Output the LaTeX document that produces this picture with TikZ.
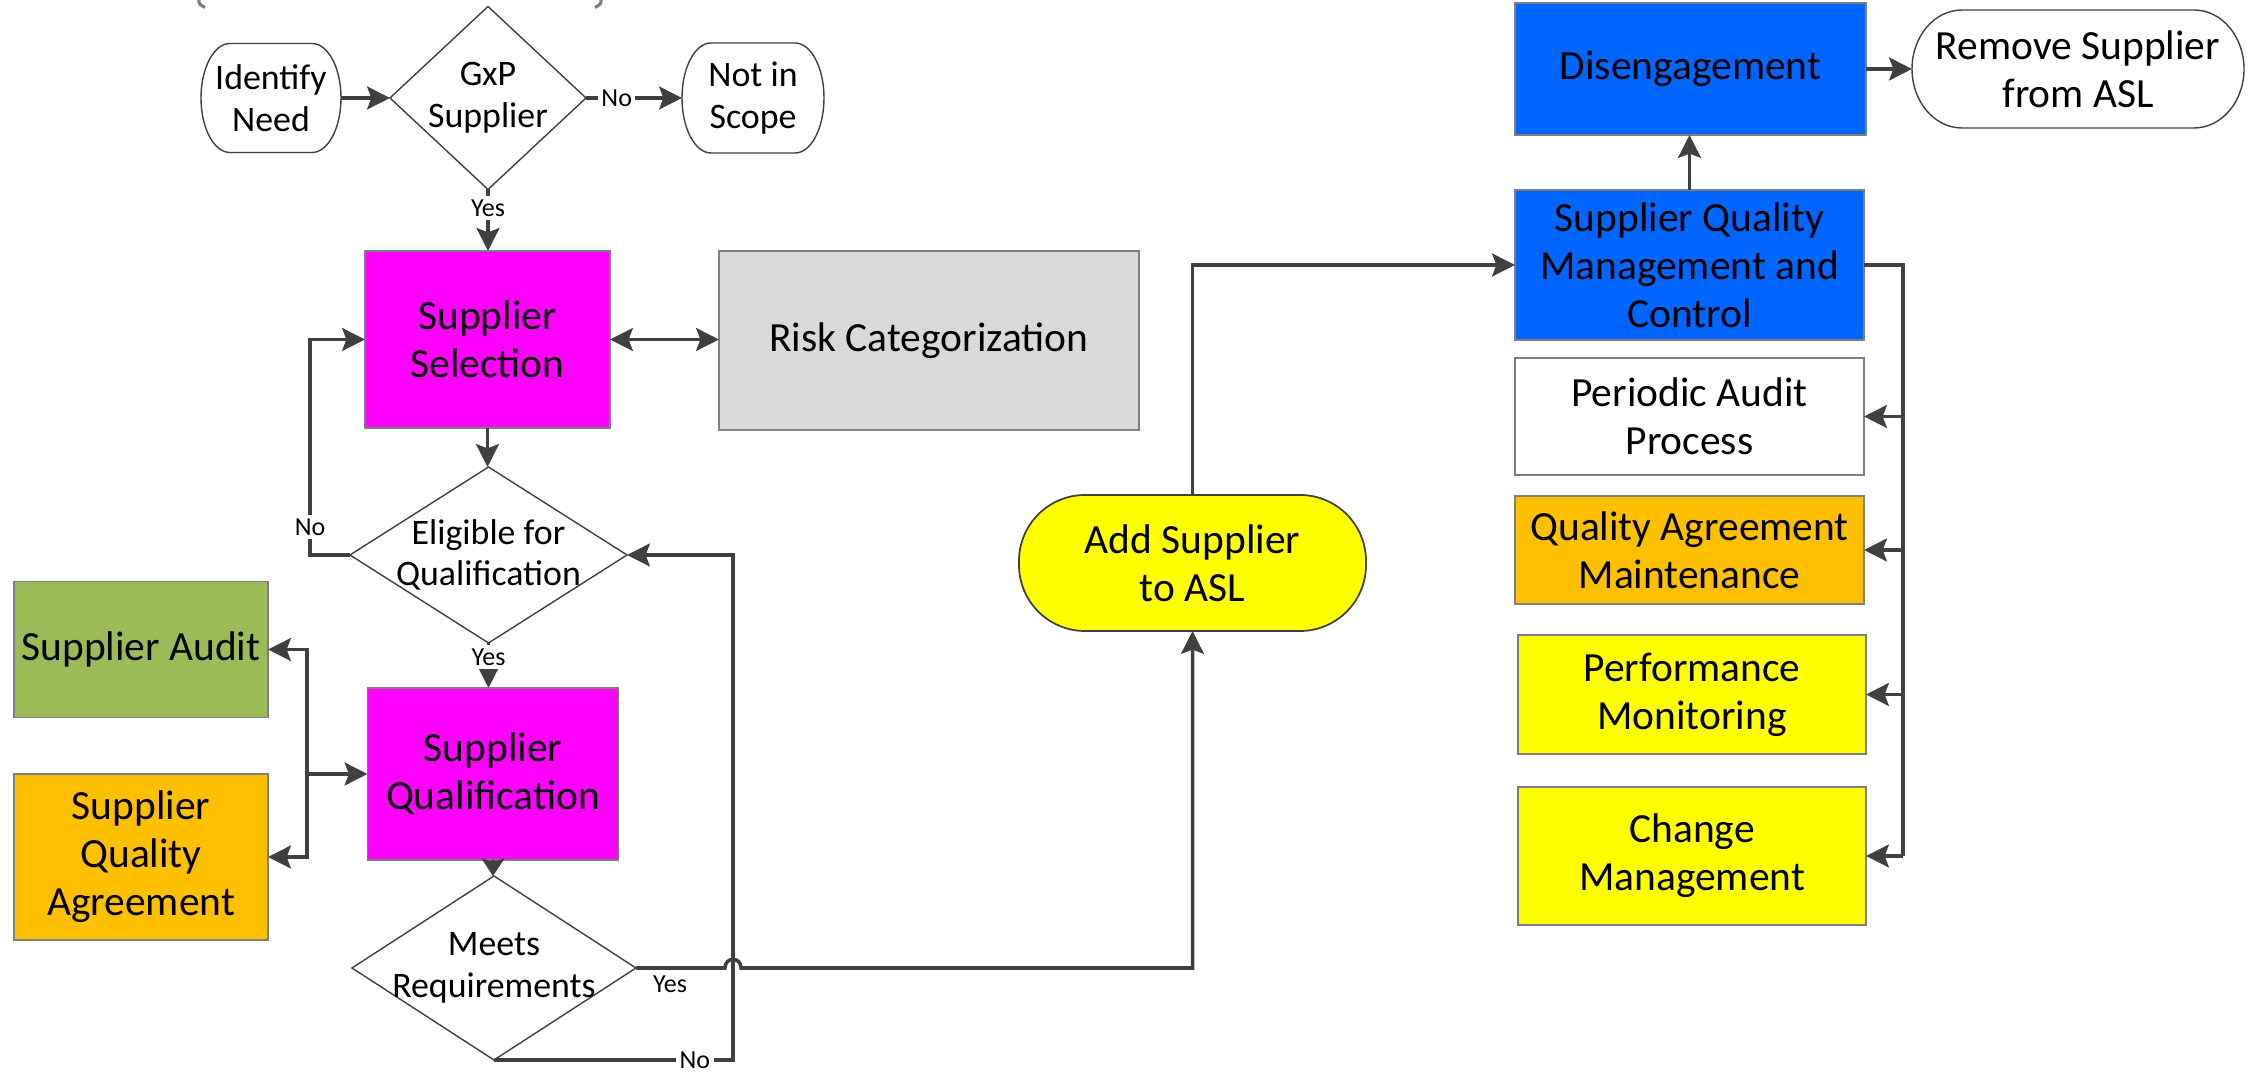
\documentclass[tikz,border=0pt]{standalone}
\usepackage{fontspec}
\setmainfont{Carlito}
\usetikzlibrary{arrows.meta,shapes.geometric}

\definecolor{linegray}{HTML}{404040}
\definecolor{boxgray}{HTML}{7F7F7F}
\definecolor{selmagenta}{HTML}{FF00FF}
\definecolor{riskgray}{HTML}{D9D9D9}
\definecolor{auditgreen}{HTML}{9BBB59}
\definecolor{agreeorange}{HTML}{FFC000}
\definecolor{monyellow}{HTML}{FFFF00}
\definecolor{ctrlblue}{HTML}{0066FF}

\newcommand\boxfont{\fontsize{11.8}{13.7}\selectfont}
\newcommand\decfont{\fontsize{10.2}{11.8}\selectfont}
\newcommand\tagfont{\fontsize{7.4}{8.5}\selectfont}

\begin{document}
\begin{tikzpicture}[
    line/.style={draw=linegray, line width=1pt},
    arr/.style={line, -{Stealth[length=6.5pt,width=6.5pt,inset=1.2pt]}},
    box/.style={rectangle, draw=boxgray, line width=0.5pt, align=center, inner sep=2pt, outer sep=0pt, font=\boxfont},
    decision/.style={diamond, draw=linegray, line width=0.4pt, inner sep=0pt, outer sep=0pt},
    dtext/.style={align=center, font=\decfont},
    terminal/.style={rectangle, align=center, inner sep=0pt, outer sep=0pt},
    termline/.style={draw=linegray, line width=0.4pt},
    tag/.style={font=\tagfont, fill=white, inner sep=1pt},
]
    \useasboundingbox (0,0) rectangle (22.48,-10.72);

    % Start of the flow, partly cut off at the top
    \draw[boxgray, line width=0.9pt] (1.99,0) .. controls (1.99,-0.04) .. (2.05,-0.075);
    \draw[boxgray, line width=0.9pt] (6.01,0) .. controls (6.01,-0.04) .. (5.95,-0.075);

    % Entry row
    \node[terminal, minimum width=1.40cm, minimum height=1.09cm, font=\decfont] (need) at (2.71,-0.98) {Identify\\Need};
    \node[decision, minimum width=1.96cm, minimum height=1.83cm, label={[dtext]center:GxP\\Supplier}] (gxp) at (4.88,-0.98) {};
    \node[terminal, minimum width=1.42cm, minimum height=1.10cm, font=\decfont] (notscope) at (7.53,-0.98) {Not in\\Scope};

    % Selection and qualification column
    \node[box, fill=selmagenta, minimum width=2.45cm, minimum height=1.77cm] (sel) at (4.875,-3.395) {Supplier\\Selection};
    \node[box, fill=riskgray, minimum width=4.20cm, minimum height=1.79cm] (risk) at (9.29,-3.405) {Risk Categorization};
    \node[decision, minimum width=2.77cm, minimum height=1.76cm, label={[dtext]center:Eligible for\\Qualification}] (elig) at (4.885,-5.55) {};
    \node[box, fill=selmagenta, minimum width=2.51cm, minimum height=1.72cm] (qual) at (4.93,-7.74) {Supplier\\Qualification};
    \node[decision, minimum width=2.84cm, minimum height=1.84cm, label={[dtext]center:Meets\\Requirements}] (meets) at (4.94,-9.68) {};

    % Qualification inputs
    \node[box, fill=auditgreen, minimum width=2.54cm, minimum height=1.36cm] (audit) at (1.41,-6.495) {Supplier Audit};
    \node[box, fill=agreeorange, minimum width=2.54cm, minimum height=1.66cm] (sqa) at (1.41,-8.57) {Supplier\\Quality\\Agreement};

    % Approved supplier list
    \node[box, draw=linegray, fill=monyellow, rounded corners=0.66cm, minimum width=3.47cm, minimum height=1.36cm] (asl) at (11.925,-5.63) {Add Supplier\\to ASL};

    % Ongoing control column
    \node[box, fill=ctrlblue, minimum width=3.51cm, minimum height=1.32cm] (diseng) at (16.905,-0.69) {Disengagement};
    \node[terminal, minimum width=3.32cm, minimum height=1.18cm, font=\boxfont] (remove) at (20.78,-0.69) {Remove Supplier\\from ASL};
    \node[box, fill=ctrlblue, minimum width=3.49cm, minimum height=1.50cm] (sqmc) at (16.895,-2.65) {Supplier Quality\\Management and\\Control};
    \node[box, fill=white, minimum width=3.49cm, minimum height=1.17cm] (periodic) at (16.895,-4.165) {Periodic Audit\\Process};
    \node[box, fill=agreeorange, minimum width=3.49cm, minimum height=1.08cm] (qam) at (16.895,-5.50) {Quality Agreement\\Maintenance};
    \node[box, fill=monyellow, minimum width=3.48cm, minimum height=1.19cm] (perf) at (16.92,-6.945) {Performance\\Monitoring};
    \node[box, fill=monyellow, minimum width=3.48cm, minimum height=1.38cm] (change) at (16.92,-8.56) {Change\\Management};

    % Terminal outlines with elliptic ends
    \foreach \tn/\rx/\ry in {need/0.29/0.545, notscope/0.29/0.55, remove/0.5/0.59} {
        \draw[termline] ([xshift=\rx cm]\tn.north west) -- ([xshift=-\rx cm]\tn.north east)
            arc[start angle=90, end angle=-90, x radius=\rx, y radius=\ry]
            -- ([xshift=\rx cm]\tn.south west)
            arc[start angle=270, end angle=90, x radius=\rx, y radius=\ry] -- cycle;
    }

    % Entry decisions
    \draw[arr] (need) -- (gxp);
    \draw[arr] (gxp) -- node[tag, pos=0.32] (gxpno) {No} (notscope);
    \draw[arr] (gxp.south) -- node[tag, pos=0.3] (gxpyes) {Yes} (gxp.south |- sel.north);

    % Selection loop
    \draw[{Stealth[length=6.5pt,width=6.5pt,inset=1.2pt]}-{Stealth[length=6.5pt,width=6.5pt,inset=1.2pt]}, line] (sel.east) -- (sel.east -| risk.west);
    \draw[arr] (sel.south) -- (sel.south |- elig.north);
    \coordinate (noloop) at (3.10,-3.395);
    \draw[arr] (elig.west) -| node[tag, pos=0.565] (eligno) {No} (noloop) -- (sel.west);
    \draw[arr] (elig.south) -- node[tag, pos=0.31] (eligyes) {Yes} (elig.south |- qual.north);
    \draw[line, -{Stealth[length=5pt,width=6.5pt,inset=1pt]}] (qual.south) -- (qual.south |- meets.north);

    % Audit and agreement feed
    \coordinate (qbus) at (3.07,-7.74);
    \draw[arr] (qbus) -- (qual.west);
    \draw[arr] (qbus) |- (audit.east);
    \draw[arr] (qbus) |- (sqa.east);

    % Requirements met or not
    \coordinate (retpt) at (7.33,-5.55);
    \draw[arr] (meets.south) -| node[tag, pos=0.42] (meetsno) {No} (retpt) -- (elig.east);
    \draw[arr] (meets.east) -- (7.25,-9.68) .. controls (7.25,-9.565) and (7.41,-9.565) .. (7.41,-9.68) -| (asl.south);
    \node[font=\tagfont] (meetsyes) at (6.70,-9.84) {Yes};

    % Into ongoing control
    \draw[arr] (asl.north) |- (sqmc.west);
    \draw[arr] (sqmc.north) -- (sqmc.north |- diseng.south);
    \draw[arr] (diseng.east) -- (diseng.east -| remove.west);
    \coordinate (sbus) at (19.03,-2.65);
    \draw[line, line width=1.4pt] (sqmc.east) -- (sbus) -- (sbus |- change.east);
    \foreach \n in {periodic, qam, perf, change}
        \draw[arr] (sbus |- \n.east) -- (\n.east);

\end{tikzpicture}
\end{document}
